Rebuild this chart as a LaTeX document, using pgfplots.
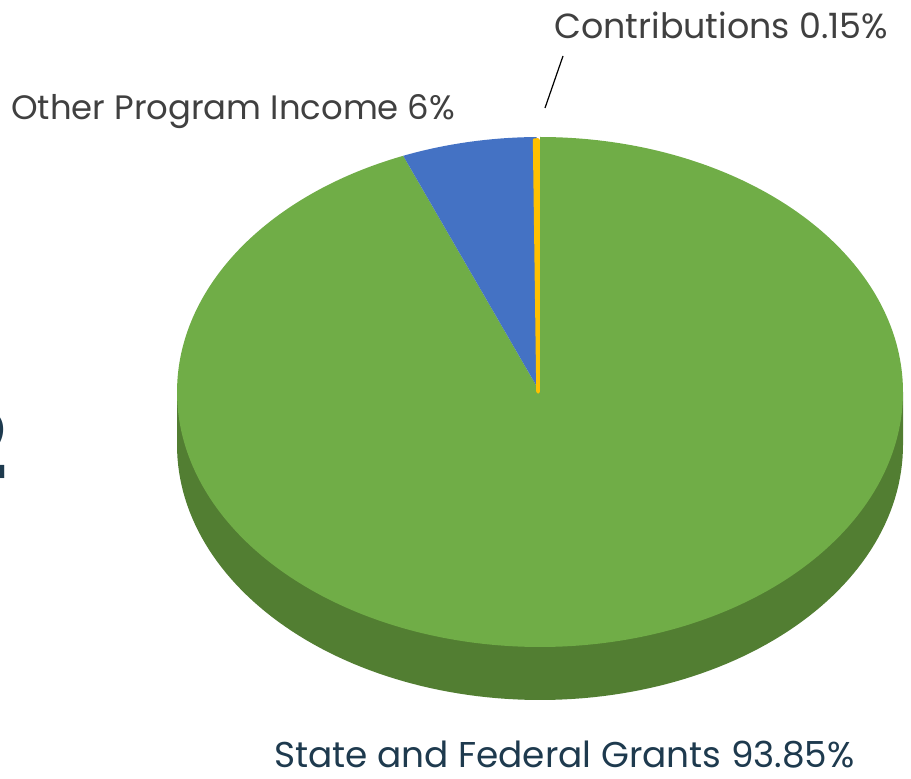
\documentclass[border=0pt]{standalone}
\usepackage{pgfplots}
\pgfplotsset{compat=1.18}
\usepackage{fontspec}
\setmainfont{Poppins}
\definecolor{pgreen}{RGB}{112,173,71}
\definecolor{pside}{RGB}{82,126,50}
\definecolor{pblue}{RGB}{68,114,196}
\definecolor{pyellow}{RGB}{255,192,0}
\definecolor{tgrey}{RGB}{64,64,64}
\definecolor{tnavy}{RGB}{30,58,78}
% slice values (percent)
\def\vGrant{93.85}
\def\vOther{6}
\def\vContr{0.15}
% geometry (px units)
\def\cx{540}\def\cy{387}\def\rx{363}\def\ry{255}\def\dep{53}
\pgfmathsetmacro\aC{90+3.6*\vContr}
\pgfmathsetmacro\aO{\aC+3.6*\vOther}
\pgfmathsetmacro\aG{\aO+3.6*\vGrant}
\begin{document}
\begin{tikzpicture}
\begin{axis}[
  width=911bp, height=779bp, scale only axis,
  xmin=0, xmax=911, ymin=0, ymax=779,
  hide axis, clip=false]
% side (depth) of the pie, front half
\addplot[fill=pside, draw=none, domain=180:360, samples=120, variable=\t]
  ({\cx+\rx*cos(t)}, {\cy-\dep+\ry*sin(t)}) -- (axis cs:\cx+\rx,\cy) -- (axis cs:\cx-\rx,\cy) -- cycle;
% State and Federal Grants
\addplot[fill=pgreen, draw=none, domain=\aO:\aG, samples=300, variable=\t]
  ({\cx+\rx*cos(t)}, {\cy+\ry*sin(t)}) -- (axis cs:\cx,\cy) -- cycle;
% Other Program Income
\addplot[fill=pblue, draw=none, domain=\aC:\aO, samples=40, variable=\t]
  ({\cx+\rx*cos(t)}, {\cy+\ry*sin(t)}) -- (axis cs:\cx,\cy) -- cycle;
% Contributions
\addplot[fill=pyellow, draw=pyellow, line width=3.5bp, line join=round, domain=90:\aC, samples=5, variable=\t]
  ({\cx-2+\rx*cos(t)}, {\cy-3+\ry*sin(t)}) -- (axis cs:\cx-2,\cy) -- cycle;
% labels
\node[anchor=west, text=tgrey, font=\fontsize{35}{40}\selectfont, inner sep=0pt]
  at (axis cs:554,754) {Contributions 0.15\%};
\draw[black, line width=1.2pt] (axis cs:545,671) -- (axis cs:563,723);
\node[anchor=west, text=tgrey, font=\fontsize{34}{40}\selectfont, inner sep=0pt]
  at (axis cs:11,667) {Other Program Income 6\%};
\node[anchor=west, text=tnavy, font=\fontsize{36}{42}\selectfont, inner sep=0pt]
  at (axis cs:274,24) {State and Federal Grants 93.85\%};
\node[anchor=east, text=tnavy, font=\fontsize{95}{100}\bfseries\selectfont, inner sep=0pt]
  at (axis cs:8,335) {2};
\end{axis}
\pgfresetboundingbox
\path (current axis.south west) rectangle (current axis.north east);
\end{tikzpicture}
\end{document}
